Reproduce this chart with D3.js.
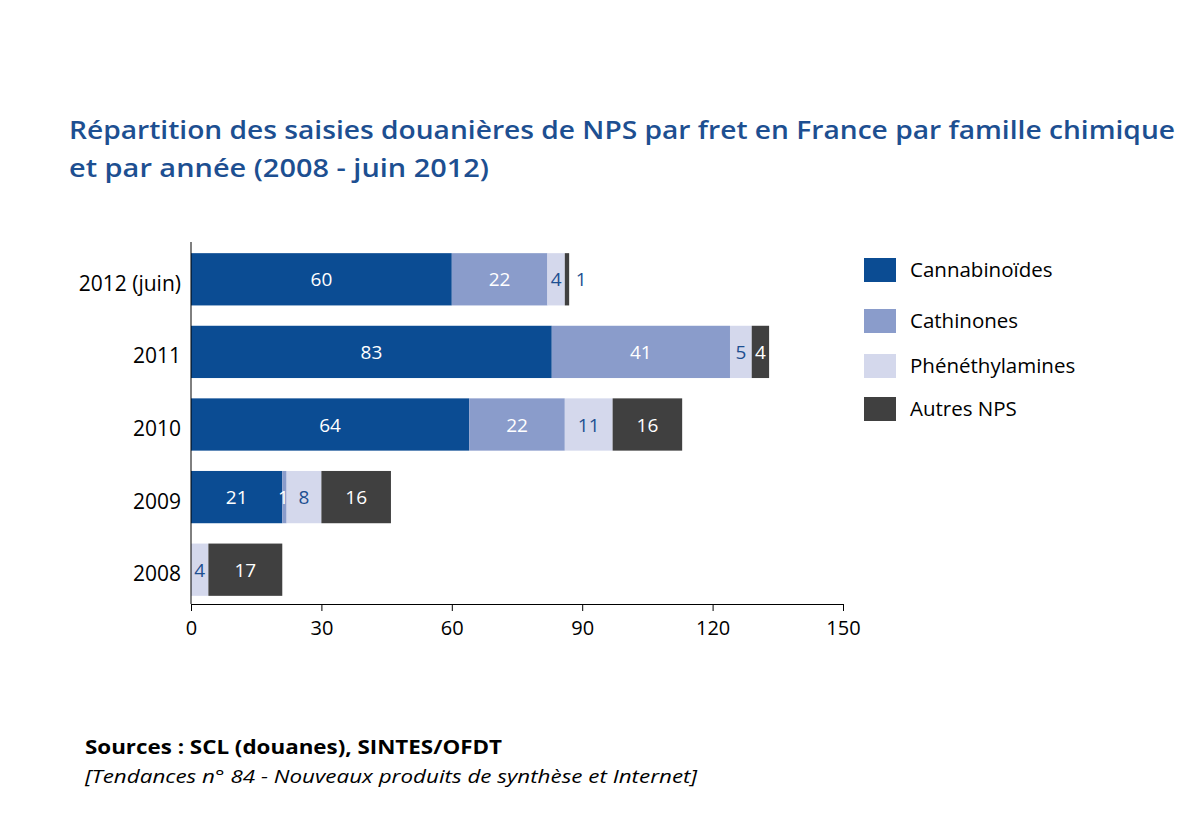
<!DOCTYPE html>
<html><head><meta charset="utf-8">
<script src="https://cdn.jsdelivr.net/npm/d3@7"></script>
<style>body{margin:0;background:#fff;}svg{font-family:"Open Sans",sans-serif;}</style>
</head><body><svg id="c" width="1185" height="818"></svg>
<script>
const years = ["2012 (juin)","2011","2010","2009","2008"];
const seriesNames = ["Cannabinoïdes","Cathinones","Phénéthylamines","Autres NPS"];
const cannabinoides = [60,83,64,21,0];
const cathinones = [22,41,22,1,0];
const phenethylamines = [4,5,11,8,4];
const autres = [1,4,16,16,17];
const xTicks = [0,30,60,90,120,150];
const colors = ["#0b4c93","#8a9ccb","#d4d8ec","#404040"];
const textColors = ["#fff","#fff","#1d4f91","#fff"];

const svg = d3.select("#c");
const vals = [cannabinoides,cathinones,phenethylamines,autres];
const x = d3.scaleLinear().domain([0,150]).range([191,843]);
const y = d3.scaleBand().domain(years).range([243,606]).paddingInner(0.28).paddingOuter(0.14);

svg.append("text").attr("x",69).attr("y",139).attr("fill","#1d4f91").attr("font-size",25).attr("font-weight",600)
  .attr("textLength",1106).attr("lengthAdjust","spacingAndGlyphs")
  .text("Répartition des saisies douanières de NPS par fret en France par famille chimique");
svg.append("text").attr("x",69).attr("y",177).attr("fill","#1d4f91").attr("font-size",25).attr("font-weight",600)
  .attr("textLength",420).attr("lengthAdjust","spacingAndGlyphs")
  .text("et par année (2008 - juin 2012)");

years.forEach((yr,i)=>{
  let acc=0;
  vals.forEach((arr,s)=>{
    const v=arr[i]; if(!v){return;}
    const w=x(acc+v)-x(acc);
    svg.append("rect").attr("x",x(acc)).attr("y",y(yr)).attr("width",w).attr("height",y.bandwidth()).attr("fill",colors[s]);
    let tx=x(acc)+w/2, tc=textColors[s];
    if(w<14){ tx = x(acc+v)+ (s===3?12:0); if(s===3) tc="#1d4f91"; }
    if(s===1 && v===1){ tx=x(acc)+w/2-1; }
    svg.append("text").attr("x",tx).attr("y",y(yr)+y.bandwidth()/2+7).attr("text-anchor","middle")
      .attr("fill",tc).attr("font-size",19).text(v);
    acc+=v;
  });
});

const ax = svg.append("g").attr("transform","translate(0,604)").call(d3.axisBottom(x).tickValues(xTicks).tickSize(7).tickSizeOuter(0));
ax.select(".domain").attr("stroke","#000");
ax.selectAll("text").attr("font-size",20).attr("fill","#000").attr("dy","1.05em").style("font-family","Open Sans");
const ay = svg.append("g").attr("transform","translate(191,0)").call(d3.axisLeft(y).tickSize(0).tickPadding(10));
ay.select(".domain").attr("d","M0,242V604");
ay.selectAll("text").attr("font-size",21).attr("fill","#000").attr("dy","0.55em").style("font-family","Open Sans");

seriesNames.forEach((n,i)=>{
  const yy=[270,321,366,409][i];
  svg.append("rect").attr("x",864).attr("y",yy-12).attr("width",32).attr("height",24).attr("fill",colors[i]);
  svg.append("text").attr("x",910).attr("y",yy+7).attr("font-size",20.5).attr("fill","#000").text(n);
});

svg.append("text").attr("x",85).attr("y",754).attr("font-size",19).attr("font-weight",700)
  .attr("textLength",417).attr("lengthAdjust","spacingAndGlyphs").text("Sources : SCL (douanes), SINTES/OFDT");
svg.append("text").attr("x",85).attr("y",783).attr("font-size",19).attr("font-style","italic")
  .attr("textLength",612).attr("lengthAdjust","spacingAndGlyphs").text("[Tendances n° 84  - Nouveaux produits de synthèse et Internet]");
</script></body></html>
